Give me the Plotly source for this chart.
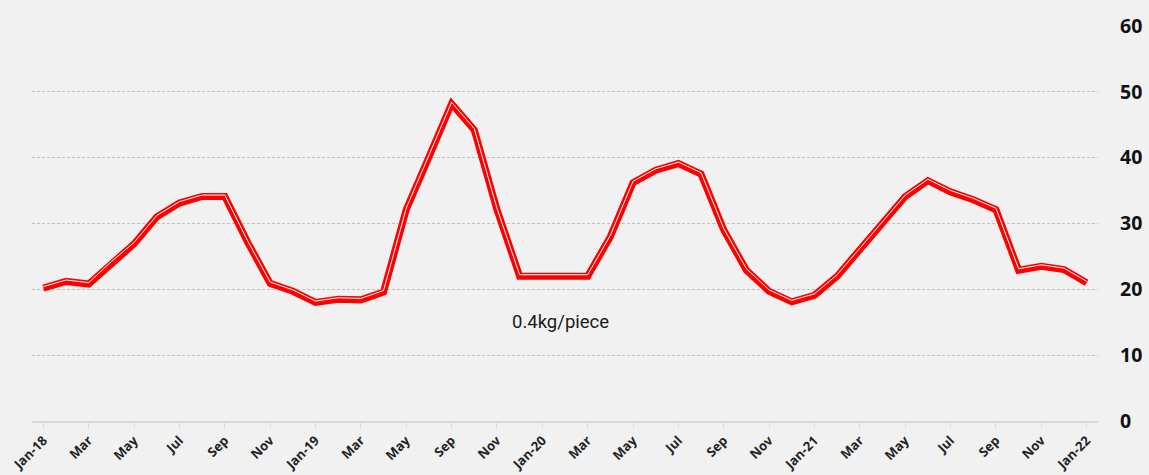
import plotly.graph_objects as go

months = [
    "2018-01", "2018-02", "2018-03", "2018-04", "2018-05", "2018-06",
    "2018-07", "2018-08", "2018-09", "2018-10", "2018-11", "2018-12",
    "2019-01", "2019-02", "2019-03", "2019-04", "2019-05", "2019-08",
    "2019-09", "2019-10", "2019-11", "2019-12",
    "2020-01", "2020-02", "2020-03", "2020-04", "2020-05", "2020-06",
    "2020-07", "2020-08", "2020-09", "2020-10", "2020-11", "2020-12",
    "2021-01", "2021-02", "2021-03", "2021-04", "2021-05", "2021-06",
    "2021-07", "2021-08", "2021-09", "2021-10", "2021-11", "2021-12",
    "2022-01",
]
labels = [
    "Jan-18", "Feb", "Mar", "Apr", "May", "Jun", "Jul", "Aug", "Sep", "Oct", "Nov", "Dec",
    "Jan-19", "Feb", "Mar", "Apr", "May", "Aug", "Sep", "Oct", "Nov", "Dec",
    "Jan-20", "Feb", "Mar", "Apr", "May", "Jun", "Jul", "Aug", "Sep", "Oct", "Nov", "Dec",
    "Jan-21", "Feb", "Mar", "Apr", "May", "Jun", "Jul", "Aug", "Sep", "Oct", "Nov", "Dec",
    "Jan-22",
]
prices = [
    20.2, 21.2, 20.8, 24.0, 26.9, 31.0, 33.1, 34.1, 34.1, 27.2, 20.9, 19.7,
    18.0, 18.5, 18.4, 19.6, 32.1, 40.1, 48.2, 44.2, 32.1, 22.0,
    22.0, 22.0, 22.0, 28.0, 36.2, 38.1, 39.1, 37.5, 29.0, 22.9, 19.7, 18.1,
    19.1, 22.0, 26.0, 30.0, 34.1, 36.5, 34.8, 33.6, 32.1, 22.9, 23.5, 23.0,
    21.0,
]
y_ticks = [0, 10, 20, 30, 40, 50, 60]
note_text = "0.4kg/piece"

tick_idx = list(range(0, len(months), 2))

fig = go.Figure()
fig.add_trace(go.Scatter(
    x=months, y=prices, mode="lines",
    line=dict(color="#ff0000", width=7, shape="linear"),
    hoverinfo="skip", showlegend=False,
))
# thin white inner stripe of the compound line, drawn on an overlaid axis
# whose range is nudged slightly so the stripe sits toward the upper edge
fig.add_trace(go.Scatter(
    x=months, y=prices, mode="lines", yaxis="y2",
    line=dict(color="#ffffff", width=1.0, shape="linear"),
    hoverinfo="skip", showlegend=False,
))

fig.add_annotation(
    x=months[22], y=15, xref="x", yref="y", text=note_text, showarrow=False,
    xshift=18,
    font=dict(family="Roboto", size=18.5, color="#1a1a1a"),
)

bg = "#f1f1f1"
fig.update_layout(
    width=1149, height=475,
    paper_bgcolor=bg, plot_bgcolor=bg,
    margin=dict(l=32, r=51, t=26, b=54, autoexpand=False),
    showlegend=False,
    xaxis=dict(
        type="category",
        categoryorder="array", categoryarray=months,
        range=[-0.5, len(months) - 0.5],
        tickmode="array",
        tickvals=[months[i] for i in tick_idx],
        ticktext=[labels[i] for i in tick_idx],
        tickangle=-45,
        tickfont=dict(family="Open Sans", size=13, color="#222222", weight="bold"),
        showgrid=False,
        showline=True, linecolor="#d9d9d9", linewidth=1.5,
        ticks="outside", ticklen=5, tickcolor="#d9d9d9", tickwidth=1,
        zeroline=False, automargin=False,
        fixedrange=True,
    ),
    yaxis=dict(
        side="right",
        range=[0, 60],
        tickmode="array", tickvals=y_ticks,
        tickfont=dict(family="Open Sans", size=19.5, color="#111111", weight="bold"),
        showgrid=True, gridcolor="#c0c0c0", gridwidth=1, griddash="3px,2px",
        zeroline=False, showline=False, automargin=False,
        ticks="", ticklabelstandoff=21,
        fixedrange=True,
    ),
    yaxis2=dict(
        overlaying="y", range=[-0.22, 59.78], visible=False,
        fixedrange=True,
    ),
)

fig.write_html(
    "out.html",
    config={"displayModeBar": False},
    post_script="document.body.style.margin='0';document.body.style.padding='0';"
                "document.body.style.background='%s';" % bg,
)
